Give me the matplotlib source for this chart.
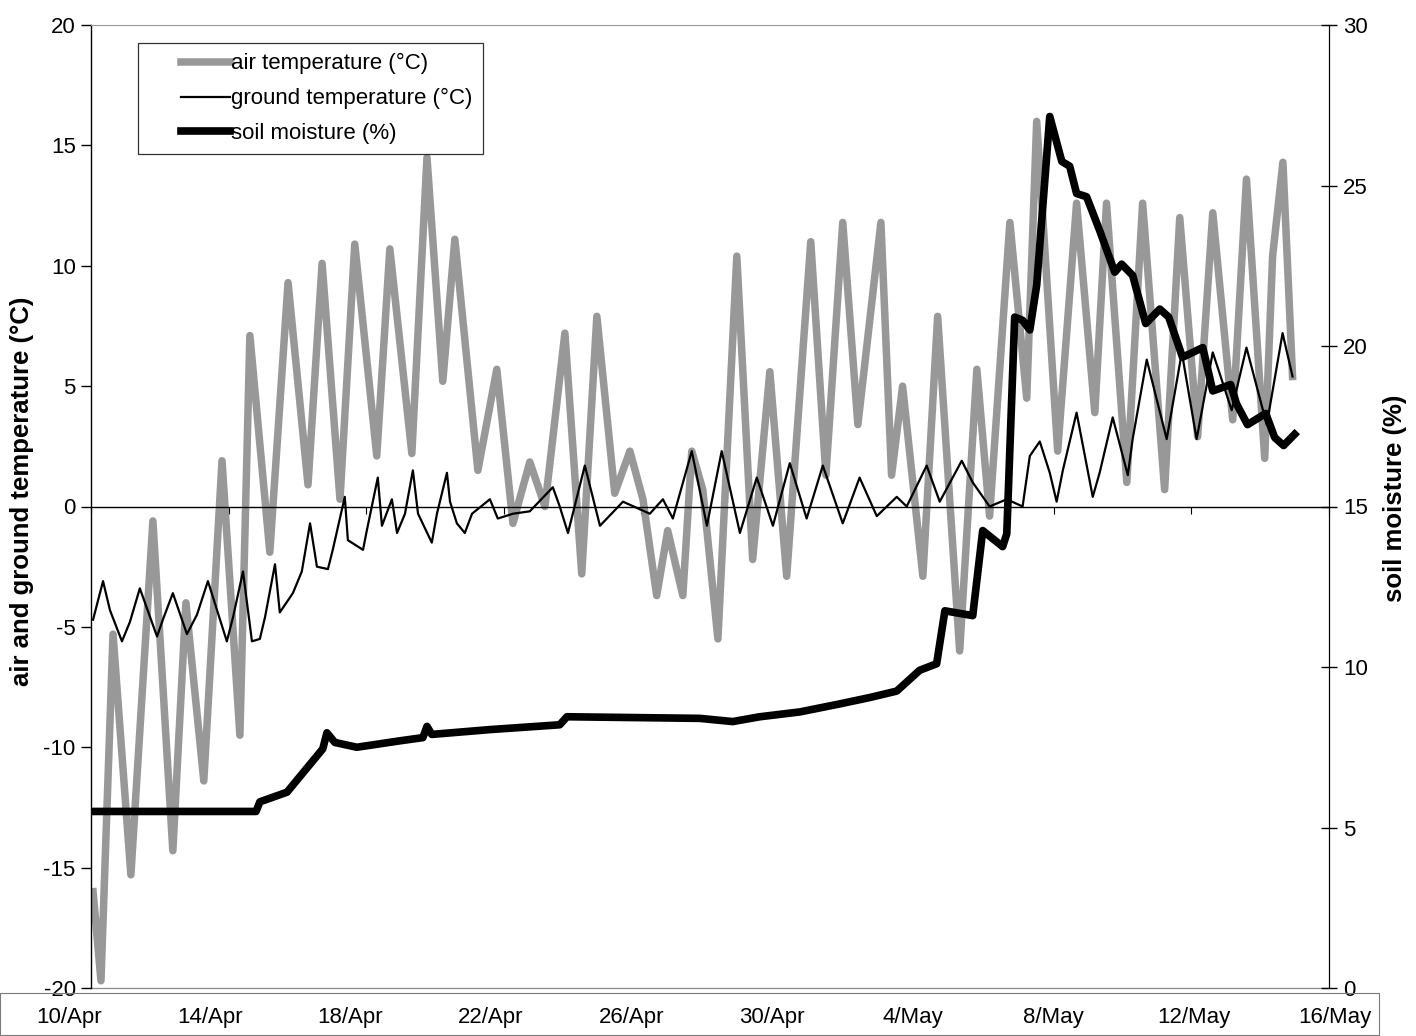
import matplotlib
matplotlib.use("Agg")
import matplotlib.pyplot as plt
from matplotlib.patches import Rectangle
from matplotlib.lines import Line2D
from matplotlib.legend_handler import HandlerLine2D

plt.rcParams['font.family'] = ['Liberation Sans', 'DejaVu Sans']
plt.rcParams['axes.unicode_minus'] = False

# days since 10 April
air_day = [0.06, 0.29, 0.64, 1.16, 1.80, 2.38, 2.76, 3.28, 3.81, 4.33, 4.62, 5.20,
           5.73, 6.31, 6.72, 7.24, 7.67, 8.31, 8.69, 9.33, 9.77, 10.23, 10.58, 11.25,
           11.80, 12.27, 12.76, 13.20, 13.78, 14.27, 14.71, 15.23, 15.67, 16.05, 16.45,
           16.77, 17.21, 17.47, 17.79, 18.23, 18.78, 19.24, 19.74, 20.23, 20.93, 21.37,
           21.86, 22.30, 22.97, 23.28, 23.60, 24.19, 24.62, 25.26, 25.76, 26.13, 26.72,
           27.21, 27.50, 28.11, 28.66, 29.19, 29.53, 30.12, 30.58, 31.22, 31.66, 32.18,
           32.62, 33.20, 33.60, 34.13, 34.36, 34.66, 34.94]
air_temp = [-16.0, -19.7, -5.3, -15.3, -0.6, -14.3, -4.0, -11.4, 1.9, -9.5, 7.1, -1.9,
            9.3, 0.9, 10.1, 0.3, 10.9, 2.1, 10.7, 2.2, 14.5, 5.2, 11.1, 1.5,
            5.7, -0.7, 1.85, 0.0, 7.2, -2.8, 7.9, 0.55, 2.3, 0.3, -3.7,
            -1.0, -3.7, 2.3, 0.7, -5.5, 10.4, -2.2, 5.6, -2.9, 11.0, 1.3,
            11.8, 3.4, 11.8, 1.3, 5.0, -2.9, 7.9, -6.0, 5.7, -0.4, 11.8,
            4.5, 16.0, 2.3, 12.6, 3.9, 12.6, 1.0, 12.6, 0.7, 12.0, 2.9,
            12.2, 3.6, 13.6, 2.0, 10.4, 14.3, 5.4]

ground_day = [0.06, 0.35, 0.55, 0.90, 1.13, 1.42, 1.92, 2.09, 2.38, 2.79, 3.08, 3.40,
              3.95, 4.13, 4.42, 4.68, 4.91, 5.06, 5.35, 5.49, 5.87, 6.13, 6.37, 6.57,
              6.89, 7.03, 7.38, 7.47, 7.91, 8.02, 8.34, 8.46, 8.75, 8.90, 9.13, 9.36,
              9.51, 9.91, 10.06, 10.35, 10.44, 10.64, 10.87, 11.08, 11.60, 11.83, 12.27,
              12.76, 13.43, 13.63, 13.87, 14.36, 14.80, 15.47, 16.25, 16.63, 16.92, 17.47,
              17.91, 18.34, 18.87, 19.36, 19.83, 20.32, 20.81, 21.28, 21.86, 22.35, 22.85,
              23.43, 23.72, 24.30, 24.68, 25.32, 25.64, 26.13, 26.63, 27.09, 27.30, 27.59,
              27.88, 28.08, 28.26, 28.66, 29.13, 29.33, 29.71, 30.15, 30.29, 30.70, 31.28,
              31.72, 32.15, 32.62, 33.17, 33.60, 34.19, 34.65, 34.94]
ground_temp = [-4.7, -3.1, -4.3, -5.6, -4.8, -3.4, -5.4, -4.7, -3.6, -5.3, -4.5, -3.1,
               -5.6, -4.6, -2.7, -5.6, -5.5, -4.6, -2.4, -4.4, -3.6, -2.7, -0.7, -2.5,
               -2.6, -1.8, 0.4, -1.4, -1.8, -1.0, 1.2, -0.8, 0.3, -1.1, -0.3, 1.5,
               -0.3, -1.5, -0.3, 1.4, 0.2, -0.7, -1.1, -0.3, 0.3, -0.5, -0.3,
               -0.2, 0.8, 0.0, -1.1, 1.7, -0.8, 0.2, -0.3, 0.3, -0.5, 2.3,
               -0.8, 2.3, -1.1, 1.2, -0.8, 1.8, -0.5, 1.7, -0.7, 1.2, -0.4,
               0.4, 0.0, 1.7, 0.2, 1.9, 1.0, 0.0, 0.3, 0.0, 2.1, 2.7,
               1.4, 0.2, 1.5, 3.9, 0.4, 1.4, 3.7, 1.3, 2.8, 6.1, 2.8,
               6.4, 2.8, 6.4, 4.0, 6.6, 3.4, 7.2, 5.4]

soil_day = [0.06, 4.80, 4.91, 5.70, 6.74, 6.86, 7.09, 7.73, 8.98, 9.65, 9.77, 9.91,
            11.60, 13.63, 13.84, 17.70, 18.66, 19.45, 20.61, 21.77, 22.65, 23.43, 24.10,
            24.59, 24.83, 25.64, 25.93, 26.51, 26.63, 26.86, 27.09, 27.30, 27.50, 27.88,
            28.23, 28.46, 28.66, 28.95, 29.33, 29.77, 29.97, 30.29, 30.67, 31.08, 31.34,
            31.74, 32.33, 32.62, 33.14, 33.31, 33.63, 34.16, 34.42, 34.68, 35.00]
soil_moist = [5.5, 5.5, 5.8, 6.1, 7.45, 7.95, 7.65, 7.5, 7.7, 7.8, 8.15, 7.9,
              8.05, 8.2, 8.45, 8.4, 8.3, 8.45, 8.6, 8.85, 9.05, 9.25, 9.9,
              10.1, 11.75, 11.6, 14.25, 13.75, 14.15, 20.9, 20.8, 20.5, 21.9, 27.15,
              25.75, 25.6, 24.75, 24.65, 23.6, 22.3, 22.55, 22.2, 20.7, 21.15, 20.9,
              19.65, 19.95, 18.6, 18.8, 18.2, 17.55, 17.9, 17.15, 16.9, 17.25]

tick_days = [0, 4, 8, 12, 16, 20, 24, 28, 32, 36]
tick_labels = ['10/Apr', '14/Apr', '18/Apr', '22/Apr', '26/Apr', '30/Apr',
               '4/May', '8/May', '12/May', '16/May']

W, H = 1416, 1036
fig = plt.figure(figsize=(W / 100, H / 100), dpi=100)
ax = fig.add_axes([91 / W, 1 - 988 / H, (1329 - 91) / W, (988 - 25) / H])
ax2 = ax.twinx()

ax.set_xlim(0, 36)
ax.set_ylim(-20, 20)
ax2.set_ylim(0, 30)

l1, = ax.plot(air_day, air_temp, color='#989898', lw=5.4, solid_joinstyle='round',
              label='air temperature (°C)', zorder=2)
l2, = ax.plot(ground_day, ground_temp, color='black', lw=1.6,
              label='ground temperature (°C)', zorder=3)
l3, = ax2.plot(soil_day, soil_moist, color='black', lw=5.5, solid_joinstyle='round',
               label='soil moisture (%)')

# category axis crosses at zero
ax.spines['bottom'].set_position(('data', 0))
ax.spines['bottom'].set_linewidth(1.0)
ax.set_xticks(tick_days)
ax.tick_params(axis='x', direction='out', length=5, labelbottom=False)
ax.axhline(-20, color='#8a8a8a', lw=0.9, clip_on=False)
ax.spines['top'].set_color('#9a9a9a')
ax.spines['left'].set_linewidth(1.0)
ax.set_yticks(range(-20, 21, 5))
ax.tick_params(axis='y', direction='out', length=7, width=1, labelsize=16, pad=4)
ax.set_ylabel('air and ground temperature (°C)', fontsize=18.5, fontweight='bold', labelpad=7)
ax.yaxis.label.set_y(0.516)

ax2.spines['bottom'].set_visible(False)
ax2.spines['top'].set_visible(False)
ax2.spines['left'].set_visible(False)
ax2.set_yticks(range(0, 31, 5))
ax2.tick_params(axis='y', direction='inout', length=12, width=1, labelsize=16, pad=4)
ax2.set_ylabel('soil moisture (%)', fontsize=18.5, fontweight='bold', labelpad=11)
ax2.yaxis.label.set_y(0.508)

# legend samples sit in the right part of a wide handle box
pad = 1.5
leg = ax2.legend(handles=[l1, l2, l3], loc='upper left', bbox_to_anchor=(0.038, 0.981),
                 borderaxespad=0, fontsize=16, frameon=True, fancybox=False,
                 edgecolor='black', handlelength=2.2 + 2 * pad, handletextpad=0.05 - pad,
                 labelspacing=0.62, borderpad=0.45,
                 handler_map={Line2D: HandlerLine2D(marker_pad=pad, numpoints=2)})
leg.get_frame().set_linewidth(0.9)

# date labels in their own band below the plot
lab = fig.add_axes([69 / W, 1 - 1004 / H, (1335 - 69) / W, 0.0005])
lab.set_xlim(0, 36)
lab.set_xticks(tick_days)
lab.set_xticklabels(tick_labels, fontsize=16)
lab.tick_params(length=0, pad=2)
lab.set_yticks([])
for s in lab.spines.values():
    s.set_visible(False)
lab.patch.set_visible(False)

fig.patches.append(Rectangle((0, 1 - 1035 / H), 1379 / W, 42 / H, transform=fig.transFigure,
                             fill=False, edgecolor='#7a7a7a', lw=0.8))

fig.savefig('out.png', dpi=100)
